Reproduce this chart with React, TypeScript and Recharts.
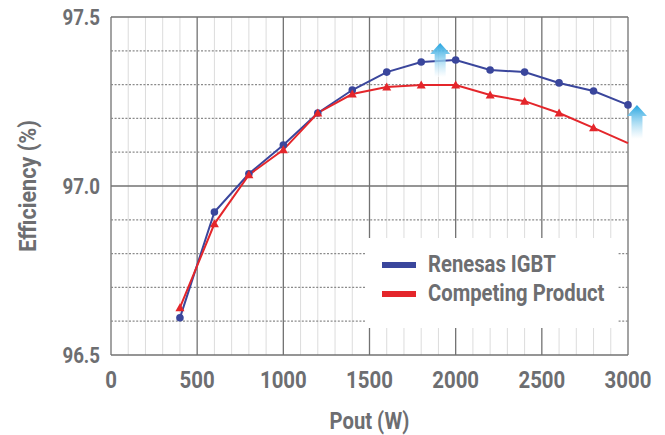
import React from 'react';
import { LineChart, Line, XAxis, YAxis, CartesianGrid, ReferenceLine, ReferenceDot, Legend } from 'recharts';

const powers = [400, 600, 800, 1000, 1200, 1400, 1600, 1800, 2000, 2200, 2400, 2600, 2800, 3000];
const renesas = [96.61, 96.923, 97.036, 97.121, 97.216, 97.284, 97.337, 97.367, 97.373, 97.343, 97.337, 97.305, 97.281, 97.24];
const competing = [96.64, 96.888, 97.033, 97.107, 97.216, 97.272, 97.293, 97.299, 97.299, 97.269, 97.251, 97.216, 97.172, 97.127];
const seriesNames = ['Renesas IGBT', 'Competing Product'];
const xTicks = [0, 500, 1000, 1500, 2000, 2500, 3000];
const xMinor = [100, 200, 300, 400, 600, 700, 800, 900, 1100, 1200, 1300, 1400, 1600, 1700, 1800, 1900, 2100, 2200, 2300, 2400, 2600, 2700, 2800, 2900];
const yTicks = [96.5, 97.0, 97.5];
const yDotted = [96.6, 96.7, 96.8, 96.9, 97.1, 97.2, 97.3, 97.4];
const arrowX = [1910, 3052];
const arrowTipY = [97.423, 97.24];

const data = powers.map((p, i) => ({ p, renesas: renesas[i], competing: competing[i] }));

const FONT = "Roboto, 'Liberation Sans', sans-serif";
const TXT = '#6d6e71';
const BLUE = '#3a469c';
const RED = '#e4262b';

const Arrow = (id: string) => (props: any) => {
  const { cx, cy } = props;
  const pts = [
    [cx, cy], [cx + 10, cy + 11], [cx + 5.5, cy + 11], [cx + 5.5, cy + 34],
    [cx - 5.5, cy + 34], [cx - 5.5, cy + 11], [cx - 10, cy + 11],
  ].map((q) => q.join(',')).join(' ');
  return (
    <g>
      <defs>
        <linearGradient id={id} x1="0" y1="0" x2="0" y2="1">
          <stop offset="0%" stopColor="#23a4e0" />
          <stop offset="100%" stopColor="#ffffff" stopOpacity={0.6} />
        </linearGradient>
      </defs>
      <polygon points={pts} fill={`url(#${id})`} />
    </g>
  );
};

const Triangle = (props: any) => {
  const { cx, cy, index } = props;
  if (index === powers.length - 1 || cx == null) return <g key={`t${index}`} />;
  return <polygon key={`t${index}`} points={`${cx},${cy - 4.5} ${cx + 4.5},${cy + 3.5} ${cx - 4.5},${cy + 3.5}`} fill={RED} />;
};

const XTick = (props: any) => {
  const { x, y, payload } = props;
  return (
    <text transform={`translate(${x},${y}) scale(0.85,1)`} textAnchor="middle" dy="0.71em"
      fill={TXT} fontFamily={FONT} fontWeight="bold" fontSize={24}>{payload.value}</text>
  );
};

const YTick = (props: any) => {
  const { x, y, payload } = props;
  return (
    <text transform={`translate(${x},${y}) scale(0.85,1)`} textAnchor="end" dy="0.36em"
      fill={TXT} fontFamily={FONT} fontWeight="bold" fontSize={22}>{Number(payload.value).toFixed(1)}</text>
  );
};

const YTitle = (props: any) => {
  const vb = props.viewBox;
  const cy = vb.y + vb.height / 2;
  const x = 28;
  return (
    <text transform={`translate(${x},${cy}) rotate(-90) scale(0.9,1)`} textAnchor="middle" dominantBaseline="central"
      fill={TXT} fontFamily={FONT} fontWeight="bold" fontSize={24}>Efficiency (%)</text>
  );
};

const XTitle = (props: any) => {
  const vb = props.viewBox;
  const cx = vb.x + vb.width / 2;
  return (
    <text transform={`translate(${cx},421) scale(0.88,1)`} textAnchor="middle" dominantBaseline="central"
      fill={TXT} fontFamily={FONT} fontWeight="bold" fontSize={23}>Pout (W)</text>
  );
};

const LegendBox = (props: any) => {
  const payload = [...(props.payload || [])].sort(
    (a: any, b: any) => seriesNames.indexOf(a.value) - seriesNames.indexOf(b.value)
  );
  return (
    <div style={{ background: '#fff', width: 251, height: 90, boxSizing: 'border-box', paddingTop: 12, paddingLeft: 16 }}>
      {payload.map((e: any) => (
        <div key={e.value} style={{ display: 'flex', alignItems: 'center', height: 29, whiteSpace: 'nowrap' }}>
          <div style={{ width: 34, height: 6, background: e.color, marginRight: 12, flex: 'none' }} />
          <span style={{ fontFamily: FONT, fontWeight: 'bold', fontSize: 23, color: TXT, display: 'inline-block',
            transform: 'scaleX(0.88)', transformOrigin: 'left center', lineHeight: '29px' }}>{e.value}</span>
        </div>
      ))}
    </div>
  );
};

export default function App() {
  return (
    <div style={{ position: 'absolute', left: 0, top: 0, width: 665, height: 435, background: '#fff' }}>
      <LineChart width={665} height={435} data={data} margin={{ top: 17, right: 37, left: 0, bottom: 0 }}>
        {xMinor.map((v) => (
          <ReferenceLine key={`m${v}`} x={v} stroke="#dcdcdc" strokeWidth={1} />
        ))}
        {yDotted.map((v) => (
          <ReferenceLine key={`d${v}`} y={v} stroke="#8a8a8a" strokeWidth={1.3} strokeDasharray="2 1.6" />
        ))}
        <CartesianGrid horizontal={false} vertical stroke="#727272" strokeWidth={1.3} />
        <ReferenceLine y={97.0} stroke="#727272" strokeWidth={1.3} />
        <ReferenceLine y={97.5} stroke="#727272" strokeWidth={1.3} />
        <ReferenceLine y={96.5} stroke="#727272" strokeWidth={1.3} />
        <XAxis dataKey="p" type="number" domain={[0, 3000]} ticks={xTicks} interval={0}
          tickLine={false} axisLine={false} tickSize={0} tickMargin={16} height={80}
          tick={<XTick />} label={<XTitle />} />
        <YAxis type="number" domain={[96.5, 97.5]} ticks={yTicks} interval={0}
          tickLine={false} axisLine={false} tickSize={0} tickMargin={11} width={111}
          tick={<YTick />} label={<YTitle />} />
        <Line dataKey="renesas" name={seriesNames[0]} stroke={BLUE} strokeWidth={2} isAnimationActive={false}
          dot={{ r: 3.8, fill: BLUE, stroke: BLUE, strokeWidth: 0 }} activeDot={false} />
        <Line dataKey="competing" name={seriesNames[1]} stroke={RED} strokeWidth={2} isAnimationActive={false}
          dot={<Triangle />} activeDot={false} />
        {arrowX.map((x, i) => (
          <ReferenceDot key={`a${i}`} x={x} y={arrowTipY[i]} ifOverflow="visible" shape={Arrow(`ag${i}`)} />
        ))}
        <Legend layout="vertical" align="center" verticalAlign="middle" content={<LegendBox />}
          wrapperStyle={{ left: 366, top: 238, width: 251, height: 90 }} />
      </LineChart>
    </div>
  );
}
